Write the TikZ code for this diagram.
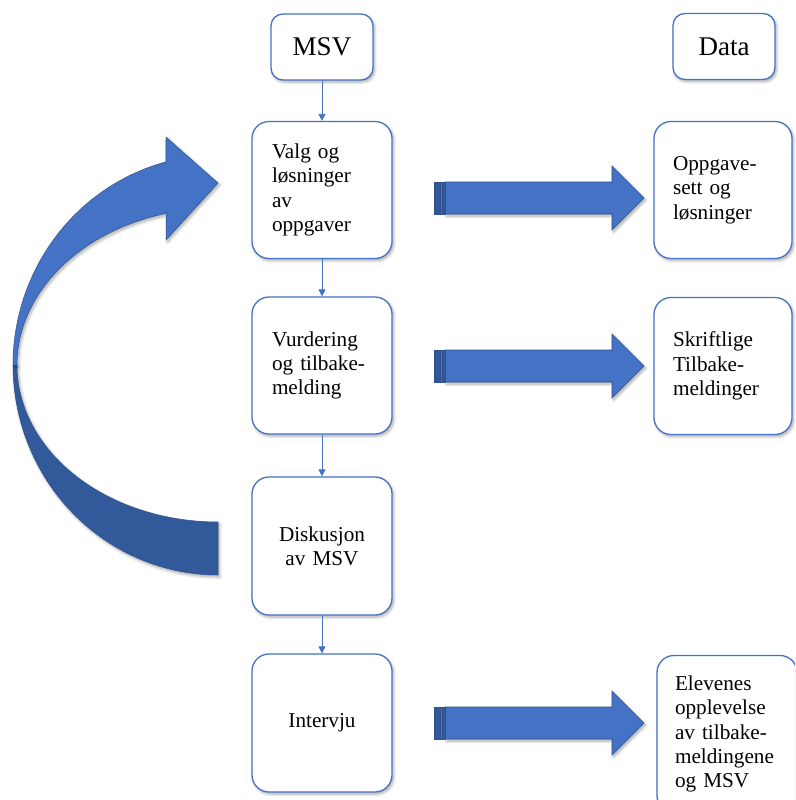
\documentclass[tikz,border=0pt]{standalone}
\usepackage{fontspec}
\setmainfont{Liberation Serif}
\usetikzlibrary{shadows,shadows.blur,arrows.meta}
\definecolor{accent}{HTML}{4472C4}
\definecolor{accentdark}{HTML}{2F528F}
\definecolor{backdark}{HTML}{32599A}
\tikzset{
  softshadow/.style={blur shadow={shadow xshift=1.5pt, shadow yshift=-2pt, shadow blur radius=3pt, shadow blur steps=6, shadow opacity=35}},
  box/.style={draw=accent, line width=1.3pt, fill=white, rounded corners=17pt, softshadow,
    font=\fontsize{21.2}{24.3}\selectfont, inner ysep=0pt},
  bigbox/.style={box, minimum width=140pt, minimum height=137pt, text width=100pt, inner xsep=20pt},
  rbox/.style={box, minimum width=138pt, minimum height=137pt, text width=100pt, inner xsep=19pt},
  headbox/.style={box, rounded corners=12pt, minimum width=102pt, minimum height=66pt,
    inner xsep=4pt, font=\fontsize{27}{30}\selectfont},
  link/.style={draw=accent, line width=0.8pt, -{Triangle[width=7pt,length=7pt]}},
  blockfill/.style={fill=accent, draw=accentdark, line width=0.6pt},
  stripe/.style={fill=accentdark!80!accent, draw=accentdark, line width=0.4pt},
}
\newcommand{\stripedarrow}[1]{%
  \path[blockfill, softshadow] (445,#1-16) -- (612,#1-16) -- (612,#1-32) -- (644,#1)
    -- (612,#1+32) -- (612,#1+16) -- (445,#1+16) -- cycle;
  \path[fill=accent, draw=accentdark, line width=0.4pt] (434,#1-16) rectangle (445,#1+16);
  \path[stripe] (434,#1-16) rectangle (440,#1+16);
  \path[stripe] (442.5,#1-16) rectangle (445,#1+16);
}
\begin{document}
\begin{tikzpicture}[x=1pt, y=-1pt]
  \useasboundingbox (0,0) rectangle (795,800);
  \clip (0,0) rectangle (795,800);

  % curved feedback arrow
  \path[fill=backdark, draw=accentdark, line width=0.5pt, softshadow]
    plot[domain=90:180, samples=60] ({218+205*cos(\x)},{365+210*sin(\x)})
    -- plot[domain=180:90, samples=60] ({218+201*cos(\x)},{365+157*sin(\x)})
    -- cycle;
  \path[fill=accent, draw=accentdark, line width=0.5pt, softshadow]
    plot[domain=180:255.3, samples=60] ({218+205*cos(\x)},{365+210*sin(\x)})
    -- (166,137) -- (218,183) -- (166,240) -- (166,213.3)
    -- plot[domain=255:180, samples=60] ({218+201*cos(\x)},{365+157*sin(\x)})
    -- cycle;

  % headers
  \node[headbox] (msv) at (322,47) {MSV};
  \node[headbox] (data) at (724,46.5) {Data};

  % left column
  \node[bigbox, align=left] (valg) at (322,190) {Valg og\\løsninger\\av\\oppgaver};
  \node[bigbox, align=left, minimum height=137pt] (vurd) at (322,365.5) {Vurdering\\og tilbake-\\melding};
  \node[bigbox, align=center, minimum height=138pt] (disk) at (322,546) {Diskusjon\\av MSV};
  \node[bigbox, align=center, minimum height=138pt] (interv) at (322,723) {Intervju};

  % right column
  \node[rbox, align=left] (opp) at (723,190) {Oppgave-\\sett og\\løsninger};
  \node[rbox, align=left] (skrift) at (723,366) {Skriftlige\\Tilbake-\\meldinger};
  \node[box, align=left, minimum width=140pt, minimum height=157pt, text width=104pt, inner xsep=18pt]
    (elev) at (727,734) {Elevenes\\opplevelse\\av tilbake-\\meldingene\\og MSV};

  % connectors
  \draw[link] (msv.south) -- (valg.north);
  \draw[link] (valg.south) -- (vurd.north);
  \draw[link] (vurd.south) -- (disk.north);
  \draw[link] (disk.south) -- (interv.north);

  % striped block arrows
  \stripedarrow{198}
  \stripedarrow{366}
  \stripedarrow{723}
\end{tikzpicture}
\end{document}
